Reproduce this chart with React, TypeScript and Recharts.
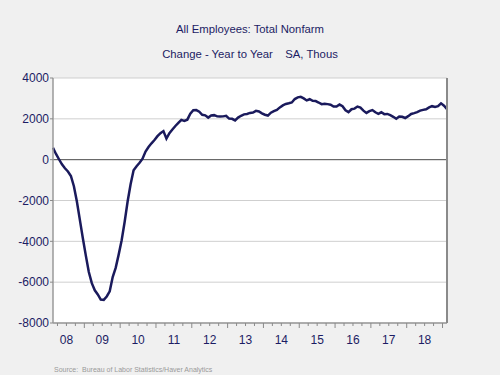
import React from 'react';
import { LineChart, Line, XAxis, YAxis, CartesianGrid, ReferenceLine } from 'recharts';

// Monthly year-over-year change, thousands, from Feb 2008 to Feb 2019
const startYear = 2008;
const startMonth = 2;
const yoyChange = [
  580, 280, 20, -230, -420, -580, -800, -1300, -2050, -2950,
  -3850, -4700, -5500, -6050, -6400, -6600, -6850, -6870, -6700, -6450,
  -5750, -5300, -4650, -3950, -3050, -2050, -1200, -520, -320, -150,
  50, 400, 620, 800, 960, 1150, 1300, 1400, 1030, 1300,
  1480, 1650, 1800, 1950, 1900, 1960, 2250, 2420, 2430, 2350,
  2200, 2170, 2060, 2160, 2180, 2120, 2110, 2120, 2150, 2010,
  2000, 1920, 2060, 2150, 2220, 2240, 2290, 2310, 2390, 2360,
  2270, 2200, 2160, 2300, 2380, 2440, 2560, 2660, 2730, 2760,
  2800, 2970, 3050, 3080, 3000, 2900, 2960, 2880, 2870, 2800,
  2720, 2740, 2720, 2690, 2600, 2600, 2700, 2620, 2420, 2330,
  2470, 2500, 2600, 2550, 2400, 2290, 2380, 2430, 2320, 2240,
  2320, 2230, 2240, 2180, 2100, 2000, 2110, 2100, 2040, 2130,
  2240, 2280, 2330, 2400, 2440, 2470, 2560, 2620, 2580, 2620,
  2760, 2640, 2480,
];
const yTicks = [-8000, -6000, -4000, -2000, 0, 2000, 4000];
const years = [2008, 2009, 2010, 2011, 2012, 2013, 2014, 2015, 2016, 2017, 2018, 2019];
const yearLabels = ['08', '09', '10', '11', '12', '13', '14', '15', '16', '17', '18'];
const title = 'All Employees: Total Nonfarm';
const subtitle = 'Change - Year to Year    SA, Thous';
const source = 'Source:  Bureau of Labor Statistics/Haver Analytics';

const data = yoyChange.map((v, i) => {
  const m = startMonth - 1 + i;
  const y = startYear + Math.floor(m / 12);
  const mo = m % 12;
  return { t: y + (mo + 0.5) / 12, v };
});

const xMin = data[0].t;
const xMax = data[data.length - 1].t;
const xTicks: number[] = [];
years.forEach((y) => {
  [0, 0.25, 0.5, 0.75].forEach((q) => {
    const v = y + q;
    if (v >= xMin - 1e-9 && v <= xMax + 1e-9) xTicks.push(v);
  });
});

const navy = '#1c1c64';
const font = '"Liberation Sans", Arial, sans-serif';

function XTick(props: any) {
  const { x, y, payload } = props;
  const val: number = payload.value;
  const yr = Math.floor(val + 1e-9);
  const frac = val - yr;
  const isYear = Math.abs(frac) < 1e-6;
  const isMid = Math.abs(frac - 0.5) < 1e-6;
  const idx = yr - years[0];
  return (
    <g>
      <line x1={x} x2={x} y1={y} y2={y + (isYear ? 5 : 3)} stroke="#8a8a8a" strokeWidth={1} />
      {isMid && idx >= 0 && idx < yearLabels.length ? (
        <text x={x} y={y + 21} textAnchor="middle" fill={navy} fontSize={12} fontFamily={font}>
          {yearLabels[idx]}
        </text>
      ) : null}
    </g>
  );
}

export default function App() {
  return (
    <div
      style={{
        position: 'absolute',
        left: 0,
        top: 0,
        width: 500,
        height: 375,
        background: '#f0f0f0',
        fontFamily: font,
      }}
    >
      <div style={{ position: 'absolute', top: 23, left: 0, width: 500, textAlign: 'center', fontSize: 11.3, color: navy }}>
        {title}
      </div>
      <div style={{ position: 'absolute', top: 48, left: 0, width: 500, textAlign: 'center', fontSize: 11.3, color: navy, whiteSpace: 'pre' }}>
        {subtitle}
      </div>
      <div style={{ position: 'absolute', top: 366, left: 54, fontSize: 7, color: '#9a9a9a', whiteSpace: 'pre' }}>
        {source}
      </div>
      <LineChart
        width={500}
        height={375}
        data={data}
        margin={{ top: 78, right: 0, bottom: 22, left: 0 }}
      >
        <CartesianGrid yAxisId="left" vertical={false} stroke="#cfcfcf" fill="#ffffff" />
        <XAxis
          dataKey="t"
          type="number"
          domain={[xMin, xMax]}
          ticks={xTicks}
          interval={0}
          tick={<XTick />}
          tickLine={false}
          tickSize={0}
          tickMargin={0}
          height={30}
          axisLine={{ stroke: '#9a9a9a', strokeWidth: 1.5 }}
        />
        <YAxis
          yAxisId="left"
          orientation="left"
          domain={[-8000, 4000]}
          ticks={yTicks}
          interval={0}
          width={53}
          tickSize={3}
          tickMargin={1}
          tick={{ fill: navy, fontSize: 12, fontFamily: font }}
          tickLine={{ stroke: '#8a8a8a' }}
          axisLine={{ stroke: '#9a9a9a', strokeWidth: 1.5 }}
        />
        <YAxis
          yAxisId="right"
          orientation="right"
          domain={[-8000, 4000]}
          ticks={yTicks}
          interval={0}
          width={53}
          tickSize={3}
          tickMargin={1}
          tick={{ fill: navy, fontSize: 12, fontFamily: font }}
          tickLine={{ stroke: '#8a8a8a' }}
          axisLine={{ stroke: '#8a8a8a', strokeWidth: 2 }}
        />
        <ReferenceLine yAxisId="left" y={0} stroke="#555555" strokeWidth={1} />
        <Line
          yAxisId="left"
          type="linear"
          dataKey="v"
          stroke="#1a1a5c"
          strokeWidth={2.5}
          dot={false}
          isAnimationActive={false}
        />
      </LineChart>
    </div>
  );
}
